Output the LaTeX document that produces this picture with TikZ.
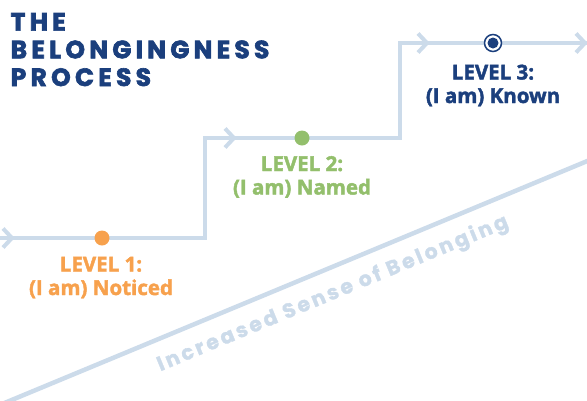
\documentclass[tikz,border=0pt]{standalone}
\usepackage{fontspec}
\setmainfont{Open Sans}
\newfontfamily\lvlfont[FakeBold=2]{Open Sans Bold}
\newfontfamily\titlefont[LetterSpace=17,FakeBold=2.5]{Poppins Bold}
\newfontfamily\diagfont[LetterSpace=14,FakeBold=1.5]{Poppins Bold}
\definecolor{navy}{HTML}{1B3F7D}
\definecolor{lorange}{HTML}{F7A14D}
\definecolor{lgreen}{HTML}{93BF6C}
\definecolor{steel}{HTML}{CCDBEA}
\begin{document}
\begin{tikzpicture}[x=1pt,y=-1pt,
  stair/.style={draw=steel,line width=4.5pt,line join=miter,line cap=butt},
  chev/.pic={\draw[steel,line width=4pt] (-9,-9.5) -- (0,0) -- (-9,9.5);},
  dot/.style={circle,inner sep=0pt,minimum size=15pt},
  lvl/.style={align=center,font=\lvlfont\fontsize{20.5}{23.5}\selectfont,anchor=base},
]
\useasboundingbox (0,0) rectangle (587,400);
% diagonal
\coordinate (d0) at (-10,409);
\coordinate (d1) at (597,157);
\draw[steel,line width=4.5pt] (d0) -- (d1);
\node[anchor=base,rotate=22.5,text=steel,font=\diagfont\fontsize{20.5}{22}\selectfont] (diagtext) at (335,299) {Increased Sense of Belonging};
% staircase
\coordinate (s0) at (-2,238);
\coordinate (c1) at (205,238);
\coordinate (c2) at (205,138);
\coordinate (c3) at (400,138);
\coordinate (c4) at (400,43);
\coordinate (s1) at (590,43);
\draw[stair] (s0) -- (c1) -- (c2) -- (c3) -- (c4) -- (s1);
\pic at (12,238) {chev};
\pic at (234,138) {chev};
\pic at (427,43) {chev};
\pic at (585,43) {chev};
% dots
\node[dot,fill=lorange] (d1n) at (102,238) {};
\node[dot,fill=lgreen] (d2n) at (302,138) {};
\node[dot,fill=white,draw=navy,line width=1.5pt,minimum size=17pt] (d3n) at (493,43) {};
\node[circle,fill=navy,inner sep=0pt,minimum size=11pt] (d3c) at (d3n) {};
% labels (anchor = baseline of last line)
\node[lvl,text=lorange] (l1) at (101,295) {LEVEL 1:\\(I am) Noticed};
\node[lvl,text=lgreen] (l2) at (302,194.5) {LEVEL 2:\\(I am) Named};
\node[lvl,text=navy] (l3) at (493,103) {LEVEL 3:\\(I am) Known};
% title
\node[anchor=base west,align=left,text=navy,inner sep=0pt,font=\titlefont\fontsize{25}{27.7}\selectfont] (title) at (10.5,86) {THE\\BELONGINGNESS\\PROCESS};
\end{tikzpicture}
\end{document}
